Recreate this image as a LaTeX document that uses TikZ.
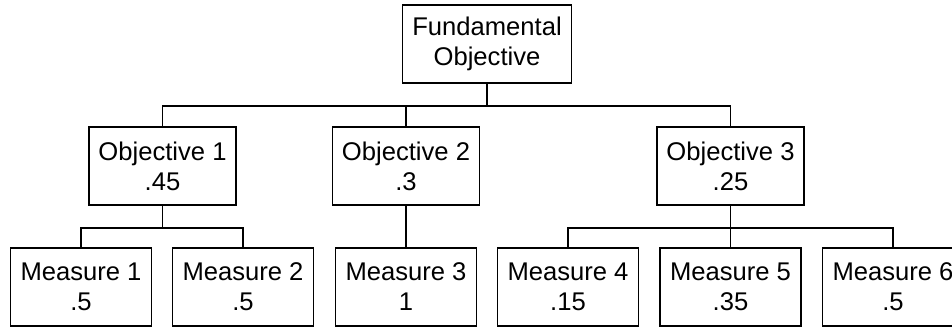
\documentclass[tikz,border=0pt]{standalone}
\usepackage{fontspec}
\setmainfont{Liberation Sans}
\usepackage{tikz}
\usetikzlibrary{positioning, calc}

\begin{document}
\begin{tikzpicture}[
    x=0.75pt, y=0.75pt,
    box/.style={rectangle, draw, line width=1.2pt, minimum height=58.5pt,
                inner sep=0pt, align=center,
                font=\fontsize{19.2pt}{22.5pt}\selectfont},
    topbox/.style={box, minimum width=126.75pt},
    objbox/.style={box, minimum width=110.25pt},
    measbox/.style={box, minimum width=105.75pt},
    link/.style={line width=1.2pt}
]
    \useasboundingbox (0,0) rectangle (952,327);

    % Fundamental objective
    \node[topbox] (fund) at (487,283) {Fundamental\\Objective};

    % Objectives with weights
    \node[objbox] (obj1) at (162.5,161) {Objective 1\\.45};
    \node[objbox] (obj2) at (406,161) {Objective 2\\.3};
    \node[objbox] (obj3) at (730.5,161) {Objective 3\\.25};

    % Measures with weights
    \node[measbox] (meas1) at (81,40) {Measure 1\\.5};
    \node[measbox] (meas2) at (243,40) {Measure 2\\.5};
    \node[measbox] (meas3) at (406,40) {Measure 3\\1};
    \node[measbox] (meas4) at (568,40) {Measure 4\\.15};
    \node[measbox] (meas5) at (730.5,40) {Measure 5\\.35};
    \node[measbox] (meas6) at (893,40) {Measure 6\\.5};

    % Tree links
    \draw[link] (fund.south) -- ++(0,-22) -| (obj1.north);
    \draw[link] (fund.south) -- ++(0,-22) -| (obj2.north);
    \draw[link] (fund.south) -- ++(0,-22) -| (obj3.north);

    \draw[link] (obj1.south) -- ++(0,-22) -| (meas1.north);
    \draw[link] (obj1.south) -- ++(0,-22) -| (meas2.north);
    \draw[link] (obj2.south) -- (meas3.north);
    \draw[link] (obj3.south) -- ++(0,-22) -| (meas4.north);
    \draw[link] (obj3.south) -- (meas5.north);
    \draw[link] (obj3.south) -- ++(0,-22) -| (meas6.north);
\end{tikzpicture}
\end{document}
